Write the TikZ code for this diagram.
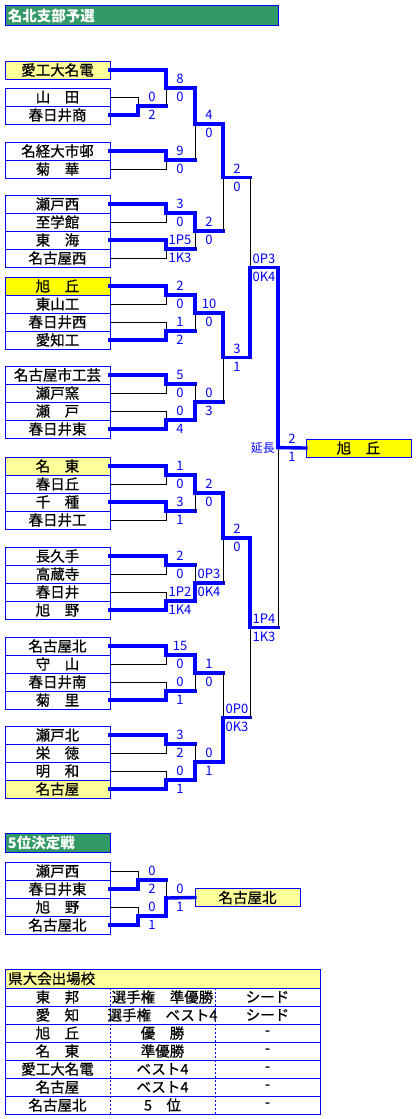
\documentclass[tikz,border=0pt]{standalone}
\usepackage{fontspec}
\setmainfont{Noto Sans CJK JP}
\newfontface\heavyface[FakeBold=0.6]{Noto Sans CJK JP}
\usetikzlibrary{positioning}
\definecolor{lineblue}{RGB}{0,0,255}
\definecolor{titlegreen}{RGB}{51,153,102}
\definecolor{paleyellow}{RGB}{255,255,153}
\definecolor{brightyellow}{RGB}{255,255,0}
\newcommand*{\namefont}{\heavyface\fontsize{14.5}{15}\selectfont}
\newcommand*{\scorefont}{\fontsize{13}{13}\selectfont}
\newcommand*{\ScoreShift}{14pt}
\tikzset{
    team/.style={
        rectangle,draw=lineblue,fill=#1,text=black,
        minimum width=105pt,minimum height=18pt,
        line width=1pt,
        outer sep=0pt,
        inner sep=0pt,
        font=\namefont,
        },
    team/.default=white,
    titlebar/.style={
        rectangle,draw=lineblue,fill=titlegreen,text=white,
        minimum height=19pt,line width=1pt,
        inner sep=3pt,outer sep=0pt,
        align=left,
        font=\fontsize{14.5}{15}\selectfont\bfseries,
        },
    win/.style={draw=lineblue,line width=3.4pt,line cap=rect},
    lose/.style={draw=black,line width=1pt},
    score/.style={text=lineblue,inner sep=0pt,font=\scorefont},
    tableline/.style={draw=lineblue,line width=1pt},
    tabledot/.style={draw=lineblue,line width=1pt,dash pattern=on 2pt off 2pt},
    cell/.style={inner sep=0pt,text=black,font=\namefont},
    }
\begin{document}
\begin{tikzpicture}[x=1pt,y=-1pt]
    \useasboundingbox (0,0) rectangle (420,1119);
    \node[titlebar,minimum width=273pt,text width=267pt] (title) at (141.5,15.5) {名北支部予選};
    % teams
    \node[team=paleyellow] (aikodai) at (57.5,70) {愛工大名電};
    \node[team] (yamada) at (57.5,97) {山　田};
    \node[team] (kasugaishou) [below=0pt of yamada] {春日井商};
    \node[team] (meikei) at (57.5,151) {名経大市邨};
    \node[team] (kikka) [below=0pt of meikei] {菊　華};
    \node[team] (setonishi) at (57.5,204) {瀬戸西};
    \node[team] (shigakkan) [below=0pt of setonishi] {至学館};
    \node[team] (toukai) [below=0pt of shigakkan] {東　海};
    \node[team] (nagoyanishi) [below=0pt of toukai] {名古屋西};
    \node[team=brightyellow] (asahigaoka) at (57.5,286) {旭　丘};
    \node[team] (higashiyama) [below=0pt of asahigaoka] {東山工};
    \node[team] (kasugainishi) [below=0pt of higashiyama] {春日井西};
    \node[team] (aichikou) [below=0pt of kasugainishi] {愛知工};
    \node[team] (shikougei) at (57.5,375) {名古屋市工芸};
    \node[team] (setoyou) [below=0pt of shikougei] {瀬戸窯};
    \node[team] (seto) [below=0pt of setoyou] {瀬　戸};
    \node[team] (kasugaihigashi) [below=0pt of seto] {春日井東};
    \node[team=paleyellow] (meitou) at (57.5,466) {名　東};
    \node[team] (kasugaoka) [below=0pt of meitou] {春日丘};
    \node[team] (chikusa) [below=0pt of kasugaoka] {千　種};
    \node[team] (kasugaikou) [below=0pt of chikusa] {春日井工};
    \node[team] (nagakute) at (57.5,556) {長久手};
    \node[team] (kouzouji) [below=0pt of nagakute] {高蔵寺};
    \node[team] (kasugai) [below=0pt of kouzouji] {春日井};
    \node[team] (kyokuya) [below=0pt of kasugai] {旭　野};
    \node[team] (nagoyakita) at (57.5,646) {名古屋北};
    \node[team] (moriyama) [below=0pt of nagoyakita] {守　山};
    \node[team] (kasugaiminami) [below=0pt of moriyama] {春日井南};
    \node[team] (kikuri) [below=0pt of kasugaiminami] {菊　里};
    \node[team] (setokita) at (57.5,735) {瀬戸北};
    \node[team] (eitoku) [below=0pt of setokita] {栄　徳};
    \node[team] (meiwa) [below=0pt of eitoku] {明　和};
    \node[team=paleyellow] (nagoya) [below=0pt of meiwa] {名古屋};
    \node[team=brightyellow] (champ) at (358.5,448) {旭　丘};
    % joins
    \coordinate (a1) at (138,106);
    \coordinate (a2) at (166,88);
    \coordinate (a3) at (166,160);
    \coordinate (a4) at (195,124);
    \coordinate (b1) at (166,213);
    \coordinate (b2) at (166,249);
    \coordinate (b3) at (195,231);
    \coordinate (ab) at (223,177.5);
    \coordinate (c1) at (166,295);
    \coordinate (c2) at (166,331);
    \coordinate (c3) at (195,313);
    \coordinate (d1) at (166,384);
    \coordinate (d2) at (166,420);
    \coordinate (d3) at (195,402);
    \coordinate (cd) at (223,357.5);
    \coordinate (s1) at (250,267.5);
    \coordinate (e1) at (166,475);
    \coordinate (e2) at (166,511);
    \coordinate (e3) at (195,493);
    \coordinate (f1) at (166,565);
    \coordinate (f2) at (166,601);
    \coordinate (f3) at (195,583);
    \coordinate (ef) at (223,538);
    \coordinate (g1) at (166,655);
    \coordinate (g2) at (166,691);
    \coordinate (g3) at (195,673);
    \coordinate (h1) at (166,744);
    \coordinate (h2) at (166,780);
    \coordinate (h3) at (195,762);
    \coordinate (gh) at (223,717.5);
    \coordinate (s2) at (250,627.75);
    \coordinate (fin) at (278,447.6);
    % 5th place
    \node[titlebar,minimum width=105pt,text width=99pt] (title5) at (57.5,843) {5位決定戦};
    \node[team] (setonishi5) at (57.5,871) {瀬戸西};
    \node[team] (kasugaihigashi5) [below=0pt of setonishi5] {春日井東};
    \node[team] (kyokuya5) [below=0pt of kasugaihigashi5] {旭　野};
    \node[team] (nagoyakita5) [below=0pt of kyokuya5] {名古屋北};
    \node[team=paleyellow] (fifth) at (247.5,897.5) {名古屋北};
    \coordinate (p1) at (138,880);
    \coordinate (p2) at (138,916);
    \coordinate (p3) at (166,898);
    % team against team
    \foreach \w/\l/\m in {kasugaishou/yamada/a1, meikei/kikka/a3,
        setonishi/shigakkan/b1, toukai/nagoyanishi/b2,
        asahigaoka/higashiyama/c1, aichikou/kasugainishi/c2,
        shikougei/setoyou/d1, kasugaihigashi/seto/d2,
        meitou/kasugaoka/e1, chikusa/kasugaikou/e2,
        nagakute/kouzouji/f1, kyokuya/kasugai/f2,
        nagoyakita/moriyama/g1, kikuri/kasugaiminami/g2,
        setokita/eitoku/h1, nagoya/meiwa/h2,
        kasugaihigashi5/setonishi5/p1, nagoyakita5/kyokuya5/p2}
        {\draw[lose] (\l.east) -| (\m);
         \draw[win] (\w.east) -| (\m);}
    \draw[win] (a1) -- (a1 -| a2);
    \draw[lose] (a1 -| a2) -- (a2);
    \draw[win] (aikodai.east) -| (a2);
    % later rounds
    \foreach \w/\l/\m in {a2/a3/a4, b1/b2/b3, a4/b3/ab,
        c1/c2/c3, d2/d1/d3, c3/d3/cd, cd/ab/s1,
        e1/e2/e3, f2/f1/f3, e3/f3/ef,
        g1/g2/g3, h2/h1/h3, h3/g3/gh, ef/gh/s2,
        s1/s2/fin, p2/p1/p3}
        {\draw[win] (\l) -- (\l -| \m);
         \draw[lose] (\l -| \m) -- (\m);
         \draw[win] (\w) -| (\m);}
    \draw[win] (fin) -- (champ.west);
    \draw[win] (p3) -- (fifth.west);
    % scores
    \foreach \m/\u/\d in {a1/0/2, a2/8/0, a3/9/0, a4/4/0, b1/3/0, b2/1P5/1K3,
        b3/2/0, ab/2/0, c1/2/0, c2/1/2, c3/10/0, d1/5/0, d2/0/4, d3/0/3,
        cd/3/1, s1/0P3/0K4, e1/1/0, e2/3/1, e3/2/0, f1/2/0, f2/1P2/1K4,
        f3/0P3/0K4, ef/2/0, g1/15/0, g2/0/1, g3/1/0, h1/3/2, h2/0/1,
        h3/0/1, gh/0P0/0K3, s2/1P4/1K3, fin/2/1, p1/0/2, p2/0/1, p3/0/1}
        {\node[score] (\m-up) at ([xshift=\ScoreShift,yshift=9pt]\m) {\u};
         \node[score] (\m-dn) at ([xshift=\ScoreShift,yshift=-9pt]\m) {\d};}
    \node[score,font=\fontsize{12}{12}\selectfont] (overtime) [left=3pt of fin] {延長};
    % table
    \draw[tableline,fill=paleyellow] (5,969) rectangle (320,988);
    \draw[tableline] (5,988) rectangle (320,1114);
    \foreach \i in {1,...,6}
        \draw[tableline] (5,{988+18*\i}) -- (320,{988+18*\i});
    \draw[tabledot] (110,988) -- (110,1114);
    \draw[tabledot] (215,988) -- (215,1114);
    \node[cell,anchor=west] (hdr) at (8,978.5) {県大会出場校};
    \foreach \i/\sch/\res/\seed in {1/東　邦/選手権　準優勝/シード,
        2/愛　知/選手権　ベスト4/シード, 3/旭　丘/優　勝/-,
        4/名　東/準優勝/-, 5/愛工大名電/ベスト4/-,
        6/名古屋/ベスト4/-, 7/名古屋北/5　位/-}
        {\node[cell] (sch\i) at (57.5,{979+18*\i}) {\sch};
         \node[cell] (res\i) at (162.5,{979+18*\i}) {\res};
         \node[cell] (seed\i) at (267.5,{979+18*\i}) {\seed};}
\end{tikzpicture}
\end{document}
